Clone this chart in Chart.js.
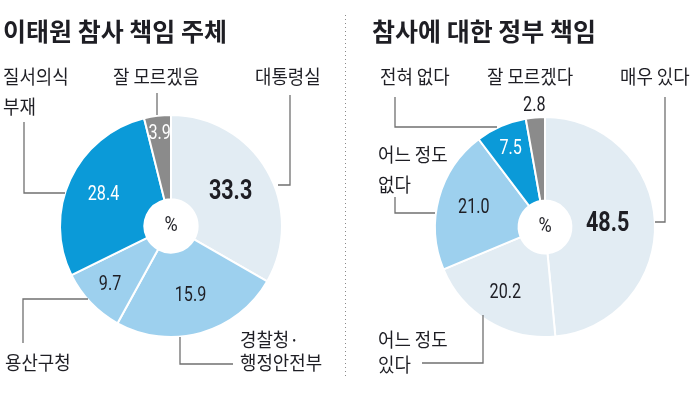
<!DOCTYPE html>
<html>
<head>
<meta charset="utf-8">
<script src="https://cdn.jsdelivr.net/npm/chart.js@4/dist/chart.umd.min.js"></script>
<style>
  html, body { margin: 0; padding: 0; background: #fff; }
  #wrap { position: relative; width: 700px; height: 396px; }
  canvas { position: absolute; top: 0; }
  #left { left: 0; }
  #right { left: 350px; }
</style>
</head>
<body>
<div id="wrap">
  <canvas id="left" width="350" height="396"></canvas>
  <canvas id="right" width="350" height="396"></canvas>
</div>
<script>
// 이태원 참사 책임 주체 (%)
const leftCategories = ['대통령실', '경찰청·행정안전부', '용산구청', '질서의식 부재', '잘 모르겠음'];
const leftPrinted = ['33.3', '15.9', '9.7', '28.4', '3.9'];
// slice sizes as drawn in the source (the 경찰청·행안부 slice is drawn wider than its printed 15.9)
const leftShares = [33.3, 24.7, 9.7, 28.4, 3.9];

// 참사에 대한 정부 책임 (%)
const rightCategories = ['매우 있다', '어느 정도 있다', '어느 정도 없다', '전혀 없다', '잘 모르겠다'];
const rightValues = [48.5, 20.2, 21.0, 7.5, 2.8];
const rightPrinted = ['48.5', '20.2', '21.0', '7.5', '2.8'];

const LIGHT = '#e2ecf3';
const MID = '#9dd0ee';
const STRONG = '#0b9ad8';
const GRAY = '#8b8b8b';
const INK = '#1e1e24';
const LINE = '#707070';

const KR = '"Noto Sans CJK KR", "Noto Sans", sans-serif';
const NUM = 'Roboto, "Liberation Sans", sans-serif';

function drawText(ctx, text, x, y, font, color, align, scaleX) {
    ctx.save();
    ctx.translate(x, y);
    ctx.scale(scaleX || 1, 1);
    ctx.font = font;
    ctx.fillStyle = color;
    ctx.textAlign = align || 'left';
    ctx.textBaseline = 'middle';
    ctx.fillText(text, 0, 0);
    ctx.restore();
}

function drawLine(ctx, pts) {
    ctx.save();
    ctx.strokeStyle = LINE;
    ctx.lineWidth = 1.3;
    ctx.beginPath();
    pts.forEach((p, i) => i ? ctx.lineTo(p[0], p[1]) : ctx.moveTo(p[0], p[1]));
    ctx.stroke();
    ctx.restore();
}

// annotation plugin: title, category labels, leader lines, value labels
function annotate(cfg) {
    return {
        id: 'annotate',
        afterDatasetsDraw(chart) {
            const ctx = chart.ctx;
            const arcs = chart.getDatasetMeta(0).data;

            if (cfg.separator) {
                ctx.save();
                ctx.strokeStyle = '#8a8a8a';
                ctx.lineWidth = 1;
                ctx.setLineDash([1, 3]);
                ctx.beginPath();
                ctx.moveTo(345.5, 15);
                ctx.lineTo(345.5, 376);
                ctx.stroke();
                ctx.restore();
            }

            drawText(ctx, cfg.title, cfg.titleX, 31, 'bold 25px ' + KR, INK, 'left', 1);

            cfg.labels.forEach(l => drawText(ctx, l[0], l[1], l[2], '19px ' + KR, INK, 'left', 0.94));
            cfg.lines.forEach(pts => drawLine(ctx, pts));

            arcs.forEach((arc, i) => {
                const a = (arc.startAngle + arc.endAngle) / 2;
                const r = arc.outerRadius * cfg.valueR[i];
                const x = arc.x + Math.cos(a) * r;
                const y = arc.y + Math.sin(a) * r;
                const big = i === 0;
                const font = (big ? 'bold 28px ' : '21px ') + NUM;
                drawText(ctx, cfg.printed[i], x, y, font, cfg.valueColor[i], 'center', 0.77);
            });

            // hole caption
            drawText(ctx, '%', arcs[0].x, arcs[0].y, '20px ' + NUM, INK, 'center', 0.9);
        }
    };
}

function makeChart(id, categories, values, colors, padding, plugin) {
    return new Chart(document.getElementById(id), {
        type: 'doughnut',
        data: {
            labels: categories,
            datasets: [{
                data: values,
                backgroundColor: colors,
                borderColor: '#ffffff',
                borderWidth: 2,
            }],
        },
        options: {
            responsive: false,
            animation: false,
            devicePixelRatio: 1,
            cutout: '24%',
            layout: { padding },
            plugins: {
                legend: { display: false },
                tooltip: { enabled: false },
            },
            events: [],
        },
        plugins: [plugin],
    });
}

makeChart('left', leftCategories, leftShares,
    [LIGHT, MID, MID, STRONG, GRAY],
    { left: 59, right: 67, top: 114, bottom: 58 },
    annotate({
        separator: true,
        title: '이태원 참사 책임 주체',
        titleX: 3,
        printed: leftPrinted,
        valueR: [0.62, 0.65, 0.76, 0.67, 0.84],
        valueColor: [INK, INK, INK, '#ffffff', '#ffffff'],
        labels: [
            ['질서의식', 3, 77], ['부재', 3, 107],
            ['잘 모르겠음', 113, 77],
            ['대통령실', 255, 77],
            ['용산구청', 5, 363],
            ['경찰청·', 240, 340], ['행정안전부', 240, 363],
        ],
        lines: [
            [[24, 122], [24, 193], [65, 193]],
            [[157, 93], [157, 115]],
            [[290, 95], [290, 185], [278, 185]],
            [[88, 299], [23, 299], [23, 343]],
            [[180, 337], [180, 364], [233, 364]],
        ],
    }));

makeChart('right', rightCategories, rightValues,
    [LIGHT, LIGHT, MID, STRONG, GRAY],
    { left: 84, right: 44, top: 116, bottom: 58 },
    annotate({
        separator: false,
        title: '참사에 대한 정부 책임',
        titleX: 22,
        printed: rightPrinted,
        valueR: [0.57, 0.7, 0.67, 0.78, 1.11],
        valueColor: [INK, INK, INK, '#ffffff', INK],
        labels: [
            ['전혀 없다', 30, 77],
            ['잘 모르겠다', 137, 77],
            ['매우 있다', 270, 77],
            ['어느 정도', 28, 155], ['없다', 28, 185],
            ['어느 정도', 28, 340], ['있다', 28, 365],
        ],
        lines: [
            [[45, 97], [45, 127], [147, 127]],
            [[315, 97], [315, 222], [305, 222]],
            [[45, 197], [45, 213], [85, 213]],
            [[72, 363], [133, 363], [133, 315]],
        ],
    }));
</script>
</body>
</html>
